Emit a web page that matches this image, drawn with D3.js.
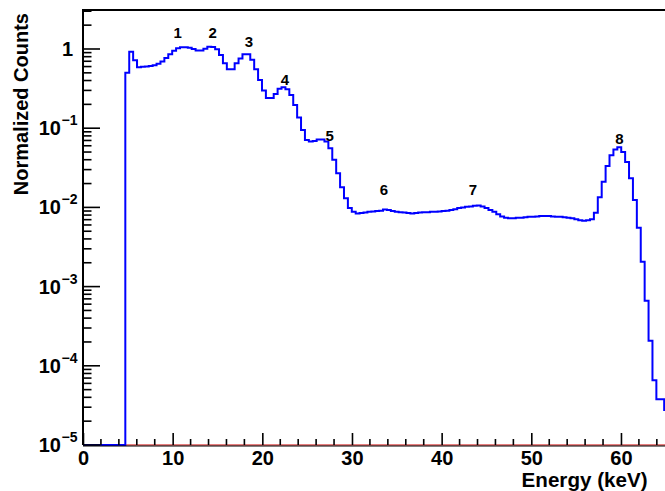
<!DOCTYPE html>
<html>
<head>
<meta charset="utf-8">
<script src="https://cdn.jsdelivr.net/npm/d3@7"></script>
<style>
  html, body { margin: 0; padding: 0; background: #fff; }
  svg { display: block; }
  text { font-family: "Liberation Sans", Arial, Helvetica, sans-serif; font-weight: bold; fill: #000; }
</style>
</head>
<body>
<svg id="chart" width="665" height="491"></svg>
<script>
// Energy spectrum: fixed-width bins starting at binStart (keV)
const binStart = 4.72;
const binWidth = 0.4355;
const counts = [
  0.50, 0.92, 0.72, 0.59, 0.595, 0.60, 0.61, 0.625, 0.65, 0.695,
  0.77, 0.86, 0.95, 1.02, 1.05, 1.05, 1.04, 1.00, 0.96, 0.96,
  1.01, 1.07, 1.06, 0.99, 0.84, 0.66, 0.555, 0.555, 0.66, 0.76,
  0.86, 0.86, 0.73, 0.555, 0.405, 0.30, 0.24, 0.24, 0.27, 0.315,
  0.33, 0.31, 0.263, 0.196, 0.136, 0.095, 0.071, 0.068, 0.069, 0.072,
  0.072, 0.068, 0.056, 0.040, 0.027, 0.018, 0.013, 0.0098, 0.0088, 0.0084,
  0.0085, 0.0086, 0.0088, 0.0089, 0.0090, 0.0091, 0.0094, 0.0093, 0.0090, 0.0088,
  0.0087, 0.0086, 0.0085, 0.0084, 0.0085, 0.0086, 0.0087, 0.0087, 0.0088, 0.0088,
  0.0089, 0.0090, 0.0091, 0.0093, 0.0095, 0.0098, 0.0100, 0.0102, 0.0103, 0.0105,
  0.0106, 0.0103, 0.0098, 0.0093, 0.0088, 0.0082, 0.0077, 0.0074, 0.0073, 0.0073,
  0.0074, 0.0074, 0.0075, 0.0076, 0.0076, 0.0077, 0.0078, 0.0078, 0.0078, 0.0077,
  0.0076, 0.0076, 0.0075, 0.0074, 0.0073, 0.0071, 0.0069, 0.0068, 0.0069, 0.0071,
  0.00857, 0.0134, 0.0211, 0.0333, 0.0455, 0.054, 0.0573, 0.050, 0.0374, 0.0233,
  0.0124, 0.00554, 0.00206, 0.000664, 0.000207, 0.0000657, 0.0000377, 0.0000377, 0.0000277
];

// Peak markers: label, energy (keV), level (normalized counts)
const peakLabels = ["1", "2", "3", "4", "5", "6", "7", "8"];
const peakEnergies = [10.56, 14.46, 18.51, 22.53, 27.51, 33.57, 43.49, 59.83];
const peakLevels = [1.389, 1.389, 1.069, 0.351, 0.0696, 0.01442, 0.01442, 0.0632];

// Axis ticks
const xMajorTicks = [0, 10, 20, 30, 40, 50, 60];
const xMinorStep = 2;
const yDecades = [-5, -4, -3, -2, -1, 0];
const xTitle = "Energy (keV)";
const yTitle = "Normalized Counts";

const xDomain = [0, 65];
const yDomain = [1e-5, 3.107];

const svg = d3.select("#chart");
const mLeft = 83, mRight = 665.8, mTop = 10, mBottom = 445;

const x = d3.scaleLinear().domain(xDomain).range([mLeft, mRight]);
const y = d3.scaleLog().domain(yDomain).range([mBottom, mTop]);

svg.append("defs").append("clipPath").attr("id", "plotClip")
  .append("rect").attr("x", mLeft).attr("y", mTop - 1)
  .attr("width", mRight - mLeft).attr("height", mBottom - mTop + 2);

const plot = svg.append("g").attr("clip-path", "url(#plotClip)");

// Empty reference histogram along the floor
plot.append("line")
  .attr("x1", mLeft).attr("x2", mRight)
  .attr("y1", mBottom).attr("y2", mBottom)
  .attr("stroke", "#d00000").attr("stroke-width", 1.2);

// Step path of the spectrum
const yc = v => (v <= yDomain[0] ? mBottom : y(v));
const pts = [[x(xDomain[0]), mBottom], [x(binStart), mBottom]];
counts.forEach((v, i) => {
  const e0 = binStart + i * binWidth;
  const e1 = e0 + binWidth;
  pts.push([x(e0), yc(v)]);
  pts.push([x(e1), yc(v)]);
});
plot.append("path")
  .attr("d", d3.line()(pts))
  .attr("fill", "none")
  .attr("stroke", "#0000ff")
  .attr("stroke-width", 2);

// Frame
const frame = svg.append("g").attr("stroke", "#000").attr("stroke-width", 2).attr("fill", "none");
frame.append("path").attr("d", `M${mLeft},${mBottom}V${mTop}H${mRight + 2}`);

// X axis ticks (inward) and labels
const xMinor = d3.range(xDomain[0], xDomain[1] + 0.001, xMinorStep).filter(v => v % 10 !== 0);
const xAxis = d3.axisBottom(x).tickValues(xMajorTicks).tickSizeInner(-12).tickSizeOuter(0)
  .tickPadding(6).tickFormat(d3.format("d"));
const gx = svg.append("g").attr("transform", `translate(0,${mBottom})`).call(xAxis);
gx.select(".domain").remove();
gx.selectAll(".tick line").attr("stroke", "#000").attr("stroke-width", 1.6);
gx.selectAll(".tick text").attr("font-size", 20).attr("fill", "#000").attr("font-family", null);
svg.append("g").selectAll("line").data(xMinor).join("line")
  .attr("x1", d => x(d)).attr("x2", d => x(d))
  .attr("y1", mBottom).attr("y2", mBottom - 6)
  .attr("stroke", "#000").attr("stroke-width", 1.6);
// bottom frame edge under the floor line
svg.append("line")
  .attr("x1", mLeft).attr("x2", mRight + 2)
  .attr("y1", mBottom + 1).attr("y2", mBottom + 1)
  .attr("stroke", "#000").attr("stroke-width", 1.2);

// Y axis: log ticks
const yMinor = [];
yDecades.forEach(p => {
  for (let m = 2; m <= 9; m++) {
    const v = m * Math.pow(10, p);
    if (v < yDomain[1]) yMinor.push(v);
  }
});
const yMajor = yDecades.map(p => Math.pow(10, p));
const yAxis = svg.append("g");
yAxis.selectAll("line.maj").data(yMajor).join("line").attr("class", "maj")
  .attr("x1", mLeft).attr("x2", mLeft + 17)
  .attr("y1", d => y(d)).attr("y2", d => y(d))
  .attr("stroke", "#000").attr("stroke-width", 1.6);
yAxis.selectAll("line.min").data(yMinor).join("line").attr("class", "min")
  .attr("x1", mLeft).attr("x2", mLeft + 8.5)
  .attr("y1", d => y(d)).attr("y2", d => y(d))
  .attr("stroke", "#000").attr("stroke-width", 1.6);

// decade labels: "1" and 10 with superscript exponent
yAxis.selectAll("text.base").data(yDecades).join("text").attr("class", "base")
  .attr("x", d => (d === 0 ? 73 : 61))
  .attr("y", d => y(Math.pow(10, d)) + 7)
  .attr("font-size", 20)
  .attr("text-anchor", "end")
  .text(d => (d === 0 ? "1" : "10"));
yAxis.selectAll("text.exp").data(yDecades.filter(d => d !== 0)).join("text")
  .attr("class", "exp")
  .attr("x", 61.5)
  .attr("y", d => y(Math.pow(10, d)) - 3)
  .attr("font-size", 14)
  .attr("text-anchor", "start")
  .text(d => "\u2212" + Math.abs(d));

// Axis titles
svg.append("text")
  .attr("x", 647.5).attr("y", 487)
  .attr("text-anchor", "end")
  .attr("font-size", 20.6)
  .text(xTitle);
svg.append("text")
  .attr("transform", "translate(28,13) rotate(-90)")
  .attr("text-anchor", "end")
  .attr("font-size", 20)
  .text(yTitle);

// Peak numbers
svg.append("g").selectAll("text").data(peakLabels).join("text")
  .attr("x", (d, i) => x(peakEnergies[i]))
  .attr("y", (d, i) => y(peakLevels[i]))
  .attr("text-anchor", "middle")
  .attr("font-size", 15)
  .text(d => d);
</script>
</body>
</html>
